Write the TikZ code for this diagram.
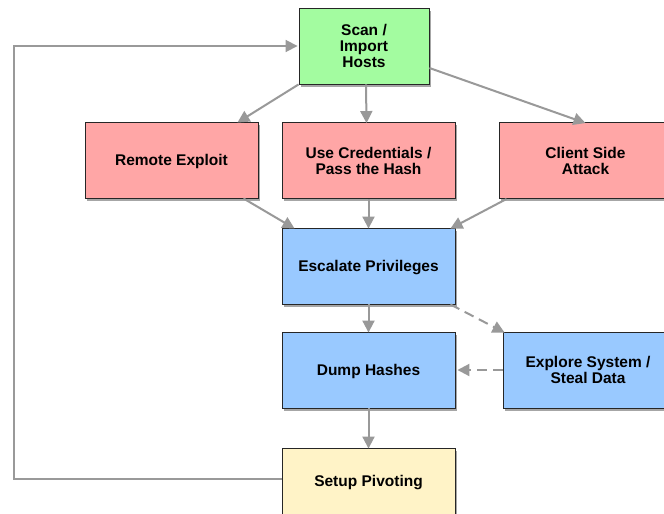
\documentclass[tikz,border=0pt]{standalone}
\usepackage{fontspec}
\setmainfont{Liberation Sans}
\usetikzlibrary{arrows.meta,shadows}
\definecolor{boxgreen}{RGB}{163,252,160}
\definecolor{boxred}{RGB}{255,166,166}
\definecolor{boxblue}{RGB}{153,201,255}
\definecolor{boxyellow}{RGB}{255,243,199}
\definecolor{arrgray}{RGB}{153,153,153}
\tikzset{
  box/.style={draw=black!85, line width=0.9pt, rectangle, align=center,
    minimum width=173pt, minimum height=76pt, inner sep=2pt,
    font=\fontsize{15.5pt}{16pt}\selectfont\bfseries,
    drop shadow={shadow xshift=1.5pt, shadow yshift=-2.5pt, opacity=0.35, fill=black}},
  oneline/.style={text depth=0pt},
  conn/.style={draw=arrgray, line width=2pt, -{Triangle[length=12pt,width=12pt]}},
  dconn/.style={conn, dash pattern=on 10pt off 6pt},
}
\begin{document}
\begin{tikzpicture}[x=1pt,y=-1pt]
\useasboundingbox[fill=white] (0,0) rectangle (664,514);
\node[box, fill=boxgreen, minimum width=130pt] (scan) at (364,46) {Scan /\\Import\\Hosts};
\node[box, oneline, fill=boxred] (remote) at (171.5,160) {Remote Exploit};
\node[box, fill=boxred] (cred) at (368.5,160.5) {Use Credentials /\\Pass the Hash};
\node[box, fill=boxred] (client) at (585.5,160.5) {Client Side\\Attack};
\node[box, oneline, fill=boxblue] (esc) at (368.5,266) {Escalate Privileges};
\node[box, oneline, fill=boxblue] (dump) at (368.5,370) {Dump Hashes};
\node[box, fill=boxblue, minimum width=170pt] (explore) at (588,370) {Explore System /\\Steal Data};
\node[box, fill=boxyellow, label={[name=pivottext, font=\fontsize{15.5pt}{16pt}\selectfont\bfseries, text depth=0pt, yshift=5pt]center:Setup Pivoting}] (pivot) at (368.5,486) {};
\coordinate (loopc) at (14,46);

\draw[conn] (scan.south west) -- ([xshift=-21pt, yshift=-1pt]remote.north east);
\draw[conn] ([xshift=2pt]scan.south) -- ([xshift=-2pt, yshift=-1pt]cred.north);
\draw[conn] ([yshift=-22pt]scan.east) -- ([yshift=-1pt]client.north);
\draw[conn] ([xshift=-15pt]remote.south east) -- ([xshift=13pt, yshift=-1pt]esc.north west);
\draw[conn] (cred.south) -- ([yshift=-1pt]esc.north);
\draw[conn] ([xshift=8pt]client.south west) -- ([xshift=-5pt, yshift=-1pt]esc.north east);
\draw[conn] (esc.south) -- ([yshift=-1pt]dump.north);
\draw[dconn] ([xshift=-5pt]esc.south east) -- ([xshift=2pt, yshift=-1pt]explore.north west);
\draw[dconn] (explore.west) -- ([xshift=2pt]dump.east);
\draw[conn] (dump.south) -- ([yshift=-1pt]pivot.north);
\draw[conn, line width=1.8pt] ([yshift=7pt]pivot.west) -| (loopc) -- ([xshift=-1pt]scan.west);
\end{tikzpicture}
\end{document}
